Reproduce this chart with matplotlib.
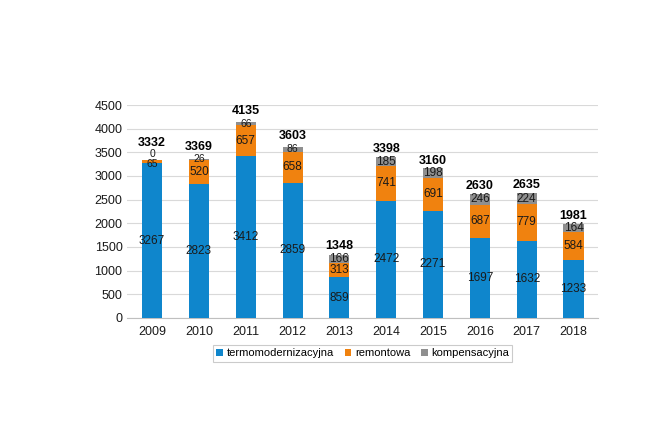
import numpy as np
import matplotlib.pyplot as plt

plt.rcParams['font.family'] = ['Liberation Sans', 'DejaVu Sans']

years = ['2009', '2010', '2011', '2012', '2013', '2014', '2015', '2016', '2017', '2018']
termo = [3267, 2823, 3412, 2859, 859, 2472, 2271, 1697, 1632, 1233]
remont = [65, 520, 657, 658, 313, 741, 691, 687, 779, 584]
kompens = [0, 26, 66, 86, 166, 185, 198, 246, 224, 164]
totals = [3332, 3369, 4135, 3603, 1348, 3398, 3160, 2630, 2635, 1981]

c_blue = '#0f86cc'
c_orange = '#f0820f'
c_gray = '#8f8f8f'

fig = plt.figure(figsize=(6.7, 4.47), dpi=100)
ax = fig.add_axes([0.19, 0.2886, 0.703, 0.4765])

x = np.arange(len(years))
w = 0.43
termo = np.array(termo)
remont = np.array(remont)
kompens = np.array(kompens)

ax.bar(x, termo, w, color=c_blue, label='termomodernizacyjna', zorder=3)
ax.bar(x, remont, w, bottom=termo, color=c_orange, label='remontowa', zorder=3)
ax.bar(x, kompens, w, bottom=termo + remont, color=c_gray, label='kompensacyjna', zorder=3)

# segment labels
fs = 8.5
for i in range(len(years)):
    ax.text(x[i], termo[i] / 2, str(termo[i]), ha='center', va='center', fontsize=fs, color='#1a1a1a', zorder=4)
    if i == 0:
        # tiny segments, shift labels apart
        ax.text(x[i], termo[i] + remont[i] / 2 - 40, str(remont[i]), ha='center', va='center',
                fontsize=fs - 1, color='#1a1a1a', zorder=4)
        ax.text(x[i], totals[i] + 130, str(kompens[i]), ha='center', va='center',
                fontsize=fs - 1, color='#1a1a1a', zorder=4)
        ax.text(x[i], totals[i] + 230, str(totals[i]), ha='center', va='bottom', fontsize=fs + 0.5,
                fontweight='bold', color='black', zorder=4, clip_on=False)
        continue
    ax.text(x[i], termo[i] + remont[i] / 2, str(remont[i]), ha='center', va='center', fontsize=fs, color='#1a1a1a', zorder=4)
    ax.text(x[i], termo[i] + remont[i] + kompens[i] / 2, str(kompens[i]),
            ha='center', va='center', fontsize=fs - (1 if kompens[i] < 100 else 0), color='#1a1a1a', zorder=4)
    off = 110 if kompens[i] < 100 else 40
    ax.text(x[i], totals[i] + off, str(totals[i]), ha='center', va='bottom', fontsize=fs + 0.5,
            fontweight='bold', color='black', zorder=4, clip_on=False)

ax.set_ylim(0, 4500)
ax.set_xlim(-0.53, len(years) - 0.47)
ax.set_yticks(range(0, 4501, 500))
ax.set_xticks(x)
ax.set_xticklabels(years)
ax.tick_params(axis='both', length=0, labelsize=9, colors='#1a1a1a')
ax.tick_params(axis='x', pad=6)
ax.grid(axis='y', color='#d9d9d9', linewidth=0.8, zorder=0)
for s in ['top', 'right', 'left']:
    ax.spines[s].set_visible(False)
ax.spines['bottom'].set_color('#bfbfbf')

leg = ax.legend(loc='upper center', bbox_to_anchor=(0.5, -0.1), ncol=3, fontsize=8,
                frameon=True, fancybox=False, edgecolor='#bfbfbf', handlelength=0.6,
                handleheight=0.6, handletextpad=0.3, columnspacing=1.0, borderpad=0.3)
leg.get_frame().set_linewidth(0.8)

fig.savefig('out.png', dpi=100)
